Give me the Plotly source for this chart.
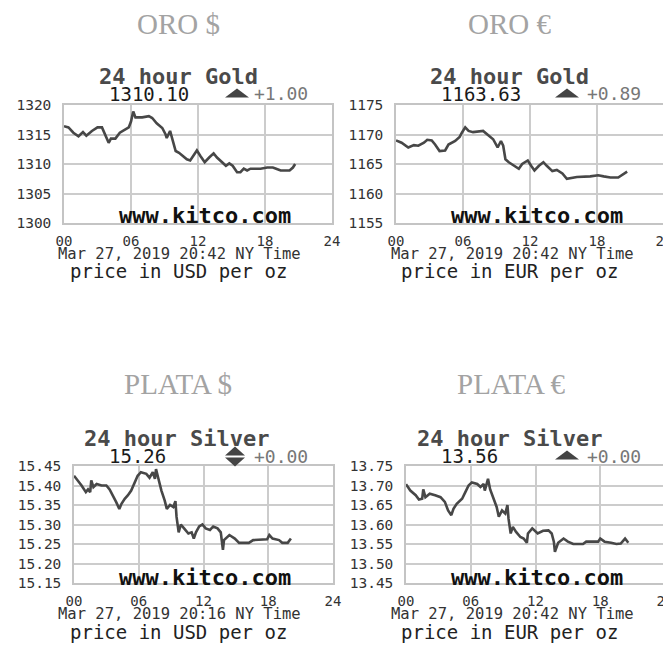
import plotly.graph_objects as go

W, H = 671, 646
OFF = 8  # the page body adds an 8px offset; compensate so the picture lines up

# ---------------- data ----------------
gold_usd_t = [0,0.4,0.84,1.3,1.7,2.0,2.5,3.0,3.4,3.7,4.0,4.2,4.6,5.0,5.5,5.8,6.0,6.2,6.4,7.0,7.6,7.9,8.3,8.8,9.1,9.2,9.5,9.7,10.0,10.3,10.6,11.0,11.3,11.6,11.9,12.2,12.6,13.0,13.4,13.7,14.2,14.5,14.8,15.1,15.5,15.8,16.1,16.4,16.7,17.6,18.2,18.7,19.0,19.4,20.2,20.5,20.7]
gold_usd = [1316.4,1316.2,1315.3,1314.7,1315.4,1314.8,1315.6,1316.2,1316.2,1315.0,1313.6,1314.3,1314.3,1315.3,1315.8,1316.2,1317.2,1318.9,1317.9,1317.9,1318.1,1317.8,1316.9,1316.1,1315.0,1314.4,1315.6,1314.4,1312.2,1311.9,1311.4,1310.8,1310.6,1311.4,1312.3,1311.4,1310.3,1311.1,1311.8,1311.1,1310.3,1309.7,1310.1,1309.7,1308.6,1308.6,1309.2,1308.9,1309.2,1309.2,1309.4,1309.4,1309.2,1308.9,1308.9,1309.4,1310.0]

gold_eur_t = [0,0.5,1.1,1.6,2.0,2.5,2.8,3.2,3.5,3.9,4.4,4.7,5.3,5.7,5.9,6.2,6.5,6.9,7.8,8.2,8.7,9.1,9.4,9.6,9.8,10.1,10.6,11.0,11.3,11.8,12.1,12.4,12.8,13.2,13.5,14.0,14.4,14.9,15.3,15.8,16.2,17.4,18.1,18.6,19.2,19.9,20.4,20.7]
gold_eur = [1169.0,1168.6,1167.8,1168.2,1168.1,1168.6,1169.1,1169.0,1168.3,1167.2,1167.3,1168.3,1168.9,1169.6,1170.3,1171.2,1170.6,1170.4,1170.6,1170.0,1169.2,1167.8,1168.9,1168.1,1165.8,1165.3,1164.7,1164.2,1165.0,1165.6,1164.7,1163.9,1164.7,1165.3,1164.7,1163.8,1164.0,1163.4,1162.5,1162.7,1162.8,1162.9,1163.1,1162.9,1162.7,1162.7,1163.3,1163.7]

silver_usd_t = [0,0.25,0.7,1.1,1.3,1.5,1.6,1.8,2.1,2.55,3.0,3.3,3.6,3.9,4.2,4.4,4.7,5.0,5.3,5.6,5.9,6.2,6.7,7.0,7.3,7.5,7.6,7.8,8.1,8.4,8.6,8.9,9.2,9.4,9.5,9.7,9.9,10.2,10.6,10.9,11.1,11.3,11.6,11.9,12.2,12.6,12.9,13.3,13.6,13.8,13.9,14.4,14.9,15.3,16.2,16.6,17.9,18.1,18.4,19.0,19.3,19.8,20.1]
silver_usd = [15.425,15.417,15.400,15.383,15.390,15.383,15.413,15.396,15.404,15.400,15.400,15.390,15.375,15.358,15.340,15.353,15.366,15.375,15.387,15.408,15.425,15.434,15.430,15.420,15.434,15.417,15.442,15.420,15.387,15.362,15.340,15.350,15.345,15.360,15.320,15.280,15.300,15.290,15.277,15.280,15.264,15.280,15.295,15.300,15.290,15.286,15.295,15.290,15.280,15.235,15.260,15.273,15.264,15.253,15.253,15.260,15.262,15.273,15.264,15.260,15.253,15.253,15.264]

silver_eur_t = [0,0.4,0.9,1.2,1.5,1.6,1.8,2.2,2.7,3.2,3.6,3.9,4.2,4.4,4.7,5.2,5.5,5.8,6.1,6.6,6.9,7.2,7.3,7.6,7.8,8.1,8.4,8.6,8.9,9.2,9.4,9.5,9.7,9.9,10.2,10.6,10.9,11.2,11.3,11.7,11.9,12.2,12.7,13.2,13.5,13.7,13.8,14.1,14.6,15.0,15.5,16.4,16.7,17.8,18.0,18.4,19.0,19.5,19.9,20.3,20.6]
silver_eur = [13.703,13.687,13.675,13.664,13.666,13.690,13.670,13.679,13.675,13.670,13.658,13.636,13.624,13.640,13.653,13.666,13.683,13.700,13.708,13.704,13.696,13.704,13.687,13.717,13.690,13.666,13.645,13.620,13.636,13.628,13.650,13.615,13.577,13.594,13.581,13.568,13.564,13.553,13.577,13.590,13.585,13.577,13.584,13.585,13.577,13.556,13.530,13.553,13.564,13.556,13.550,13.550,13.556,13.556,13.564,13.556,13.553,13.550,13.551,13.564,13.553]

hour_ticks = [0, 6, 12, 18, 24]
hour_labels = ["00", "06", "12", "18", "24"]
gold_usd_ticks = [1300, 1305, 1310, 1315, 1320]
gold_eur_ticks = [1155, 1160, 1165, 1170, 1175]
silver_usd_ticks = [15.15, 15.20, 15.25, 15.30, 15.35, 15.40, 15.45]
silver_eur_ticks = [13.45, 13.50, 13.55, 13.60, 13.65, 13.70, 13.75]

section_titles = ["ORO $", "ORO €", "PLATA $", "PLATA €"]
chart_titles = ["24 hour Gold", "24 hour Gold", "24 hour Silver", "24 hour Silver"]
last_prices = ["1310.10", "1163.63", "15.26", "13.56"]
changes = ["+1.00", "+0.89", "+0.00", "+0.00"]
directions = ["up", "up", "flat", "up"]
timestamps = ["Mar 27, 2019 20:42 NY Time", "Mar 27, 2019 20:42 NY Time",
              "Mar 27, 2019 20:16 NY Time", "Mar 27, 2019 20:42 NY Time"]
units = ["price in USD per oz", "price in EUR per oz", "price in USD per oz", "price in EUR per oz"]
watermark = "www.kitco.com"

# ---------------- helpers ----------------
def px(x):
    return (x - OFF) / W

def py(y):
    return 1 - (y - OFF) / H

MONO = "DejaVu Sans Mono"
LINE = "#474747"
GRID = "#cccccc"

panels = [
    dict(t=gold_usd_t, v=gold_usd, ticks=gold_usd_ticks, fmt="d", x0=64, x1=332, y0=105, y1=223),
    dict(t=gold_eur_t, v=gold_eur, ticks=gold_eur_ticks, fmt="d", x0=396, x1=664, y0=105, y1=223),
    dict(t=silver_usd_t, v=silver_usd, ticks=silver_usd_ticks, fmt=".2f", x0=74, x1=333, y0=466, y1=583),
    dict(t=silver_eur_t, v=silver_eur, ticks=silver_eur_ticks, fmt=".2f", x0=406, x1=665, y0=466, y1=583),
]

fig = go.Figure()
layout = dict(
    width=W, height=H, margin=dict(l=0, r=0, t=0, b=0, pad=0, autoexpand=False),
    paper_bgcolor="white", plot_bgcolor="white", showlegend=False,
)

for i, p in enumerate(panels):
    n = "" if i == 0 else str(i + 1)
    fig.add_trace(go.Scatter(
        x=p["t"], y=p["v"], mode="lines",
        line=dict(color=LINE, width=2.6),
        xaxis="x" + n, yaxis="y" + n, hoverinfo="skip",
    ))
    layout["xaxis" + n] = dict(
        domain=[px(p["x0"]), px(p["x1"])], anchor="y" + n,
        range=[0, 24], tickvals=hour_ticks, ticktext=hour_labels,
        showgrid=True, gridcolor=GRID, gridwidth=1.5,
        showline=True, linecolor="#c4c4c4", linewidth=1.5, mirror=True,
        ticks="", zeroline=False, ticklabelstandoff=4, automargin=False,
        tickfont=dict(family=MONO, size=14, color="#333"),
    )
    layout["yaxis" + n] = dict(
        domain=[py(p["y1"]), py(p["y0"])], anchor="x" + n,
        range=[p["ticks"][0], p["ticks"][-1]], tickvals=p["ticks"],
        tickformat=p["fmt"],
        showgrid=True, gridcolor=GRID, gridwidth=1.5,
        showline=True, linecolor="#c4c4c4", linewidth=1.5, mirror=True,
        ticks="", zeroline=False, ticklabelstandoff=8, automargin=False,
        tickfont=dict(family=MONO, size=14.5, color="#333"),
    )

ann = []
def add(text, x, y, size, color, family=MONO, bold=False):
    if bold:
        text = "<b>" + text + "</b>"
    ann.append(dict(text=text, x=px(x), y=py(y), xref="paper", yref="paper",
                    xanchor="center", yanchor="middle", showarrow=False,
                    font=dict(family=family, size=size, color=color)))

shapes = []
def tri(cx, cy, w, h, up=True, color="#444"):
    if up:
        pts = [(cx - w / 2, cy + h / 2), (cx + w / 2, cy + h / 2), (cx, cy - h / 2)]
    else:
        pts = [(cx - w / 2, cy - h / 2), (cx + w / 2, cy - h / 2), (cx, cy + h / 2)]
    path = "M " + " L ".join(f"{px(a):.5f},{py(b):.5f}" for a, b in pts) + " Z"
    shapes.append(dict(type="path", path=path, xref="paper", yref="paper",
                       fillcolor=color, line=dict(width=0)))

# section titles
sec_pos = [(178, 24), (510, 24), (178, 384), (511, 384)]
for s, (x, y) in zip(section_titles, sec_pos):
    add(s, x, y, 29, "#a3a3a3", family="Liberation Serif")

# per-chart header and footer texts
hdr = [
    dict(title=(178, 76), price=(149, 94), tri=(237, 93), chg=(281, 94), date=(179, 254), unit=(178, 271), wm=(205, 216)),
    dict(title=(510, 76), price=(481, 94), tri=(567, 93), chg=(614, 94), date=(512, 254), unit=(509, 271), wm=(537, 216)),
    dict(title=(176, 438), price=(137, 456), tri=(235, 456), chg=(281, 456), date=(179, 614), unit=(178, 632), wm=(205, 577)),
    dict(title=(510, 438), price=(469, 456), tri=(567, 455), chg=(614, 456), date=(512, 614), unit=(509, 632), wm=(537, 577)),
]
for i, h in enumerate(hdr):
    add(chart_titles[i], *h["title"], 22, "#4a4a4a", bold=True)
    add(last_prices[i], *h["price"], 19, "#1a1a1a")
    tx, ty = h["tri"]
    if directions[i] == "flat":
        tri(tx, ty - 5, 20, 9, up=True)
        tri(tx, ty + 6, 20, 9, up=False)
    else:
        tri(tx, ty, 24, 9, up=True)
    add(changes[i], *h["chg"], 18, "#777")
    add(timestamps[i], *h["date"], 15.5, "#333")
    add(units[i], *h["unit"], 19, "#222")
    add(watermark, *h["wm"], 22, "#111", bold=True)

layout["annotations"] = ann
layout["shapes"] = shapes
fig.update_layout(**layout)
fig.write_html("out.html")
